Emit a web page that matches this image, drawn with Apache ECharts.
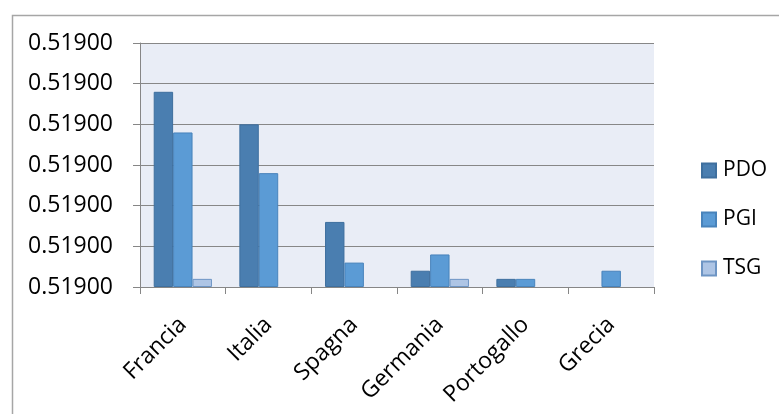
<!DOCTYPE html>
<html>
<head>
<meta charset="utf-8">
<script src="https://cdn.jsdelivr.net/npm/echarts@6/dist/echarts.min.js"></script>
<style>html,body{margin:0;padding:0;background:#fff}#c{width:779px;height:414px}</style>
</head>
<body>
<div id="c"></div>
<script>
var categories = ['Francia', 'Italia', 'Spagna', 'Germania', 'Portogallo', 'Grecia'];
var seriesNames = ['PDO', 'PGI', 'TSG'];
var pdo = [24, 20, 8, 2, 1, 0];
var pgi = [19, 14, 3, 4, 1, 2];
var tsg = [1, 0, 0, 1, 0, 0];
var yTickLabels = ['0.51900', '0.51900', '0.51900', '0.51900', '0.51900', '0.51900', '0.51900'];

var FONT = '"Open Sans", sans-serif';
var chart = echarts.init(document.getElementById('c'), null, {renderer: 'canvas'});
function barSeries(name, data, color, border) {
  return {
    name: name, type: 'bar',
    data: data.map(function (v) {
      return v === 0 ? {value: v, itemStyle: {borderWidth: 0}} : v;
    }),
    barGap: '0%', barCategoryGap: '32%',
    itemStyle: {color: color, borderColor: border, borderWidth: 1},
    emphasis: {disabled: true}
  };
}
chart.setOption({
  animation: false,
  backgroundColor: '#ffffff',
  graphic: [{
    type: 'rect', left: 10, top: 13, shape: {x: 0, y: 0, width: 800, height: 500},
    style: {fill: 'none', stroke: '#a6a6a6', lineWidth: 1.5}, silent: true
  }],
  grid: {left: 140, right: 125, top: 43, bottom: 127, show: true,
         backgroundColor: '#e9edf6', borderWidth: 0},
  legend: {
    orient: 'vertical', left: 696, top: 155,
    itemWidth: 14, itemHeight: 14, itemGap: 28,
    icon: 'rect',
    textStyle: {fontFamily: FONT, fontSize: 21, color: '#000', padding: [0, 0, 0, 2]},
    data: seriesNames
  },
  xAxis: {
    type: 'category', data: categories,
    axisLine: {lineStyle: {color: '#868686', width: 1}},
    axisTick: {show: true, length: 7, lineStyle: {color: '#868686'}},
    axisLabel: {rotate: 45, margin: 34, fontFamily: FONT, fontSize: 23, color: '#000', interval: 0}
  },
  yAxis: {
    type: 'value', min: 0, max: 30, interval: 5,
    axisLine: {show: true, lineStyle: {color: '#868686', width: 1}},
    axisTick: {show: true, length: 7, lineStyle: {color: '#868686'}},
    splitLine: {lineStyle: {color: '#878787', width: 1}},
    axisLabel: {margin: 27, fontFamily: FONT, fontSize: 23, color: '#000',
      formatter: function (v) { return yTickLabels[Math.round(v / 5)]; }}
  },
  series: [
    barSeries(seriesNames[0], pdo, '#4a7eb0', '#3e6f9e'),
    barSeries(seriesNames[1], pgi, '#5b9bd5', '#4883bb'),
    barSeries(seriesNames[2], tsg, '#aec5e5', '#6e95c4')
  ]
});
</script>
</body>
</html>
